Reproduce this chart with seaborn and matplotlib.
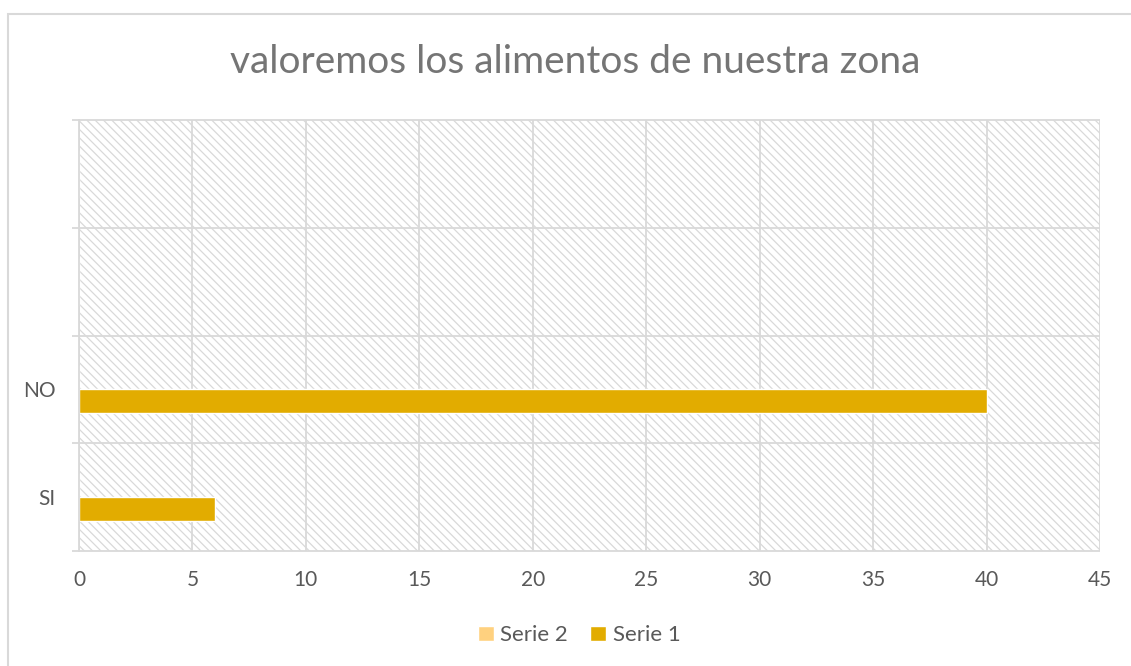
import matplotlib
matplotlib.use("Agg")
import matplotlib.pyplot as plt
import matplotlib.patches as mpatches
import seaborn as sns
import pandas as pd
import numpy as np

# ---- data ----
categories = ["SI", "NO", " ", "  "]
serie1 = [6, 40, 0, 0]
serie2 = [0, 0, 0, 0]
series_names = ["Serie 2", "Serie 1"]
x_ticks = [0, 5, 10, 15, 20, 25, 30, 35, 40, 45]
title = "valoremos los alimentos de nuestra zona"

rows = []
for c, v in zip(categories, serie1):
    rows.append({"cat": c, "serie": "Serie 1", "val": v})
for c, v in zip(categories, serie2):
    rows.append({"cat": c, "serie": "Serie 2", "val": v})
df = pd.DataFrame(rows)

sns.set_theme(style="white")
plt.rcParams["font.family"] = ["Lato", "DejaVu Sans"]
plt.rcParams["hatch.color"] = "#d6d6d6"
plt.rcParams["hatch.linewidth"] = 0.9

txt = "#595959"
grid_c = "#d9d9d9"

fig = plt.figure(figsize=(11.31, 6.66), dpi=100)
ax = fig.add_axes([79/1131, 1-551/666, (1100-79)/1131, (551-120)/666])

# hatched background
ax.set_facecolor("white")
bg = mpatches.Rectangle((0, 0), 1, 1, transform=ax.transAxes, facecolor="white",
                        edgecolor=grid_c, hatch="\\\\\\\\", linewidth=0, zorder=0)
ax.add_patch(bg)

order = list(reversed(categories))
sns.barplot(data=df, y="cat", x="val", hue="serie", order=order,
            hue_order=series_names, palette={"Serie 2": "#FFD17F", "Serie 1": "#E2AC00"},
            width=0.445, orient="h", ax=ax, zorder=3, saturation=1, legend=True)

ax.set_xlim(0, 45)
ax.set_ylim(len(categories) - 0.5, -0.5)
ax.set_xticks(x_ticks)
ax.set_xticklabels([str(t) for t in x_ticks])
ax.set_yticks(range(len(categories)))
ax.set_yticklabels(order)
ax.tick_params(axis="y", which="both", left=False, length=0, pad=17, labelsize=15, labelcolor=txt)
ax.tick_params(axis="x", length=0, pad=14, labelsize=15, labelcolor=txt)
ax.set_xlabel("")
ax.set_ylabel("")

ax.grid(False)
for t in x_ticks:
    ax.axvline(t, color=grid_c, lw=1.3, zorder=1)
# category boundary lines, extended slightly left of the axis like tick marks
ax.hlines(np.arange(-0.5, len(categories), 1.0), -0.3, 45, color=grid_c, lw=1.3,
          zorder=1, clip_on=False)

for s in ["top", "right", "bottom"]:
    ax.spines[s].set_visible(False)
ax.spines["left"].set_color(grid_c)
ax.spines["left"].set_linewidth(1.3)
ax.spines["left"].set_zorder(4)

# legend
leg = ax.legend(loc="center", bbox_to_anchor=(0.49, -0.196), ncol=2, frameon=False,
                fontsize=16, handlelength=0.7, handleheight=0.7, handletextpad=0.3,
                columnspacing=1.0)
for t in leg.get_texts():
    t.set_color(txt)

fig.text(575/1131, 1-62/666, title, ha="center", va="center", fontsize=28, color="#757575")

# chart border
fig.add_artist(mpatches.Rectangle((8/1131, -0.05), 1.2, 1-14/666+0.05, transform=fig.transFigure,
                                  fill=False, edgecolor=grid_c, linewidth=1.5))

fig.savefig("out.png", dpi=100, facecolor="white")
